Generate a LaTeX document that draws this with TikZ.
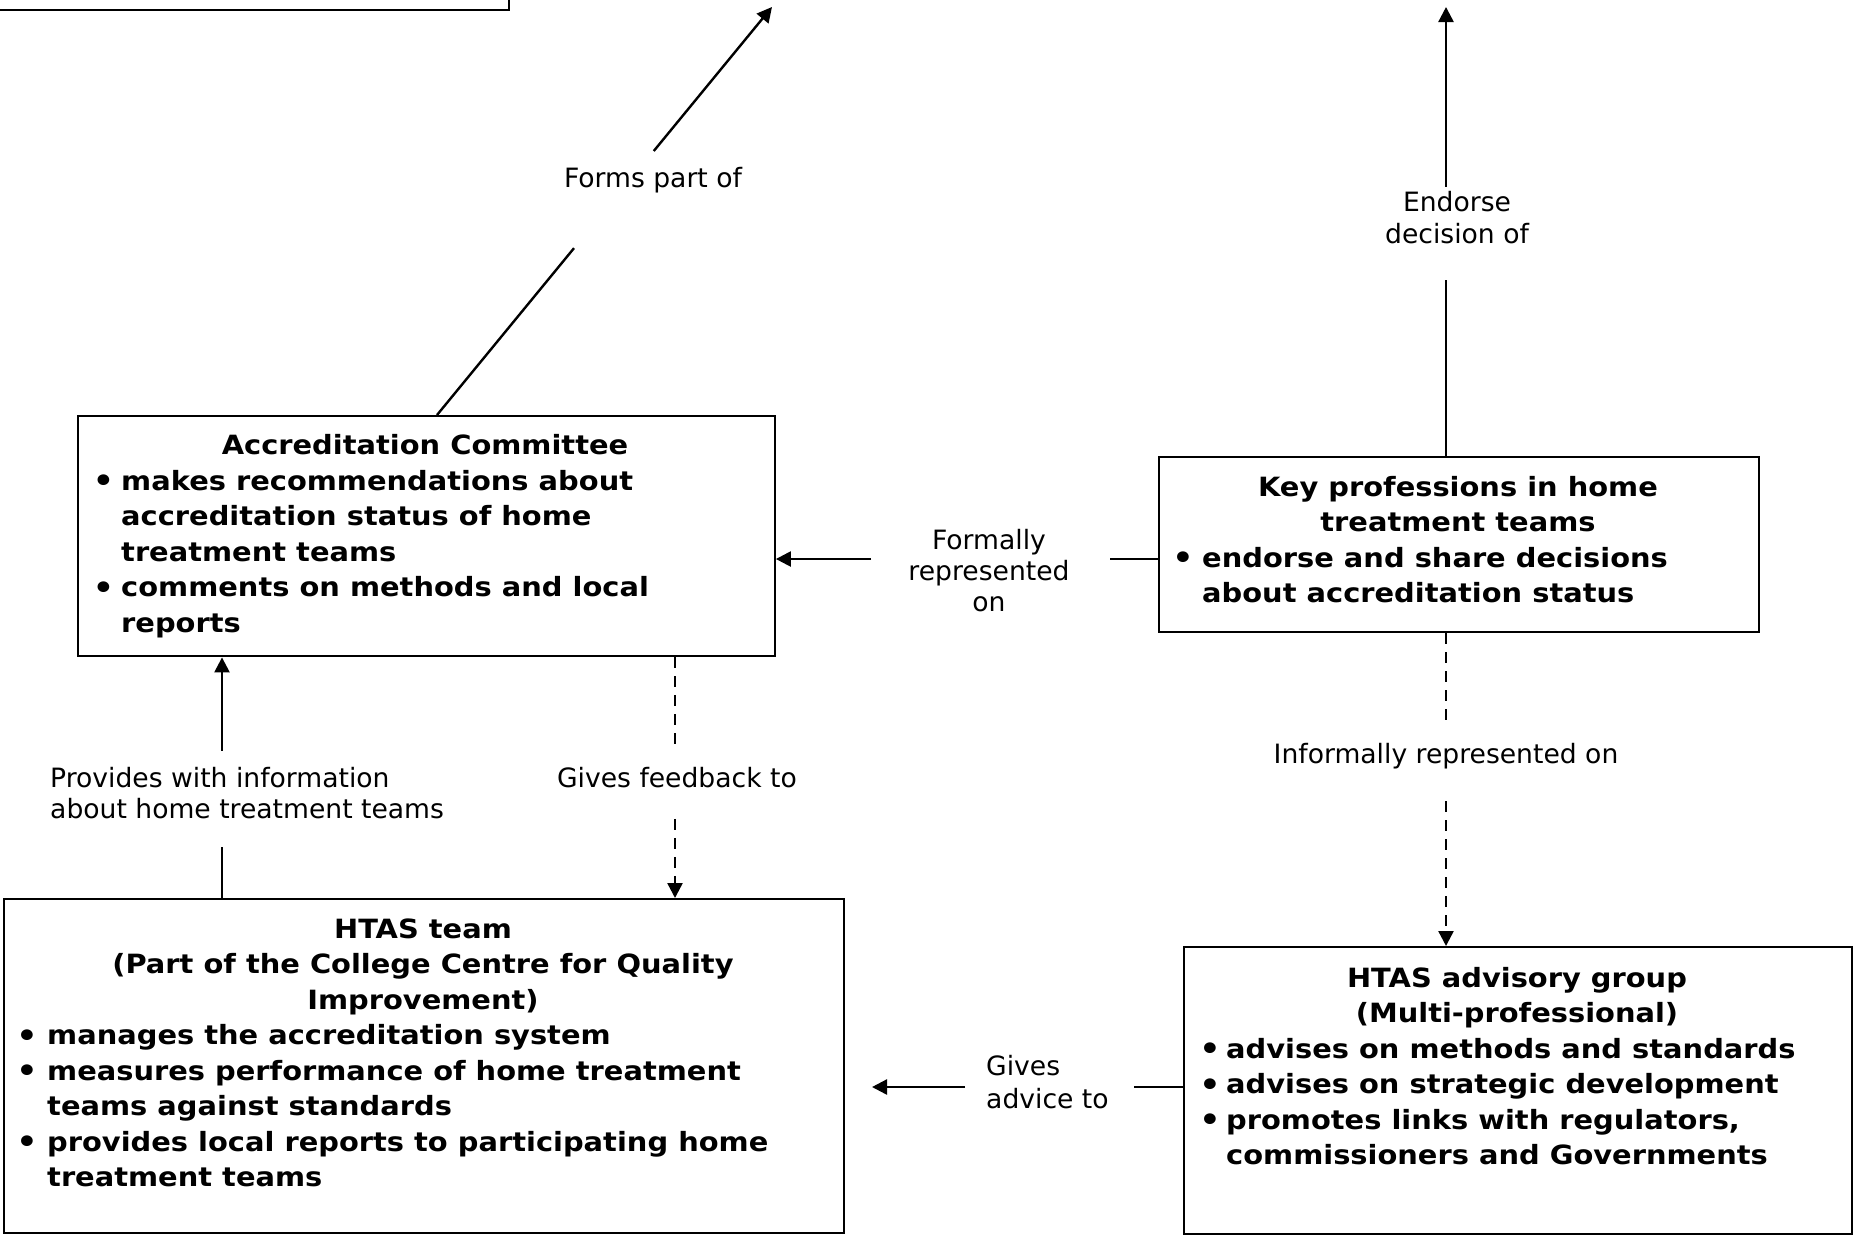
\documentclass[tikz,border=0pt]{standalone}
\usepackage{fontspec}
\setmainfont{DejaVu Sans}
\newfontfamily\boxfont{DejaVu Sans}[FakeStretch=1.09]
\usetikzlibrary{arrows.meta,calc}
\tikzset{
  box/.style={draw, line width=2.4pt, inner sep=0pt, anchor=north west},
  btxt/.style={font=\boxfont\bfseries\fontsize{26.5}{35.5}\selectfont, inner sep=0pt},
  ttl/.style={btxt, anchor=base},
  itm/.style={btxt, anchor=base west},
  bul/.style={btxt, anchor=base},
  lbl/.style={font=\fontsize{26.6}{31.5}\selectfont, inner sep=0pt, anchor=base},
  lbll/.style={lbl, anchor=base west},
  conn/.style={line width=2.4pt},
  arr/.style={conn, -{Triangle[length=15pt,width=15pt]}},
  dsh/.style={conn, dash pattern=on 11pt off 8pt},
}
\newcommand{\bulsym}{\raisebox{-1.5pt}{\scalebox{1.15}{\textbullet}}}
\begin{document}
\begin{tikzpicture}[x=1pt,y=-1pt]
\useasboundingbox (0,0) rectangle (1854,1235);

% boxes
\node[box, anchor=south east, minimum width=600pt, minimum height=100pt] (tl) at (510,11) {};
\node[box, minimum width=696.5pt, minimum height=240pt] (acc) at (77,415) {};
\node[box, minimum width=600pt, minimum height=175pt] (key) at (1158,456) {};
\node[box, minimum width=840pt, minimum height=334pt] (htas) at (3,898) {};
\node[box, minimum width=668.5pt, minimum height=287pt] (adv) at (1182.5,946) {};

% Accreditation Committee text
\node[ttl] (accT) at (425,454) {Accreditation Committee};
\node[bul] (accB1) at (103.5,490) {\bulsym};
\node[itm] (accL1) at (121,490) {makes recommendations about};
\node[itm] (accL2) at (121,525.5) {accreditation status of home};
\node[itm] (accL3) at (121,561) {treatment teams};
\node[bul] (accB2) at (103.5,596.5) {\bulsym};
\node[itm] (accL4) at (121,596.5) {comments on methods and local};
\node[itm] (accL5) at (121,632) {reports};

% Key professions text
\node[ttl] (keyT1) at (1458,496) {Key professions in home};
\node[ttl] (keyT2) at (1458,531.5) {treatment teams};
\node[bul] (keyB1) at (1183,567) {\bulsym};
\node[itm] (keyL1) at (1202,567) {endorse and share decisions};
\node[itm] (keyL2) at (1202,602.5) {about accreditation status};

% HTAS team text
\node[ttl] (htT1) at (423,938) {HTAS team};
\node[ttl] (htT2) at (423,973.5) {(Part of the College Centre for Quality};
\node[ttl] (htT3) at (423,1009) {Improvement)};
\node[bul] (htB1) at (27,1044.5) {\bulsym};
\node[itm] (htL1) at (47,1044.5) {manages the accreditation system};
\node[bul] (htB2) at (27,1080) {\bulsym};
\node[itm] (htL2) at (47,1080) {measures performance of home treatment};
\node[itm] (htL3) at (47,1115.5) {teams against standards};
\node[bul] (htB3) at (27,1151) {\bulsym};
\node[itm] (htL4) at (47,1151) {provides local reports to participating home};
\node[itm] (htL5) at (47,1186.5) {treatment teams};

% Advisory group text
\node[ttl] (adT1) at (1517,987) {HTAS advisory group};
\node[ttl] (adT2) at (1517,1022.5) {(Multi-professional)};
\node[bul] (adB1) at (1210,1058) {\bulsym};
\node[itm] (adL1) at (1226,1058) {advises on methods and standards};
\node[bul] (adB2) at (1210,1093.5) {\bulsym};
\node[itm] (adL2) at (1226,1093.5) {advises on strategic development};
\node[bul] (adB3) at (1210,1129) {\bulsym};
\node[itm] (adL3) at (1226,1129) {promotes links with regulators,};
\node[itm] (adL4) at (1226,1164.5) {commissioners and Governments};

% connector labels
\node[lbl] (lForms) at (653,187) {Forms part of};
\node[lbl] (lEnd1) at (1457,211) {Endorse};
\node[lbl] (lEnd2) at (1457,243) {decision of};
\node[lbl] (lFor1) at (989,549) {Formally};
\node[lbl] (lFor2) at (989,580) {represented};
\node[lbl] (lFor3) at (989,611) {on};
\node[lbl] (lInf) at (1446,763) {Informally represented on};
\node[lbll] (lPro1) at (50,787) {Provides with information};
\node[lbll] (lPro2) at (50,818) {about home treatment teams};
\node[lbl] (lFeed) at (677,787) {Gives feedback to};
\node[lbll] (lAdv1) at (986,1075) {Gives};
\node[lbll] (lAdv2) at (986,1108) {advice to};

% connector end points
\coordinate (fpS) at ($(acc.north west)+(360,0)$);
\coordinate (fpTip) at (772,7);
\coordinate (enS) at ($(key.north west)+(288,0)$);
\coordinate (enTip) at (1446,7);
\coordinate (foS) at ($(key.north west)+(0,103)$);
\coordinate (foE) at ($(acc.north east)+(0,144)$);
\coordinate (prS) at ($(htas.north west)+(219,0)$);
\coordinate (prE) at ($(acc.south west)+(145,0)$);
\coordinate (gfS) at ($(acc.south west)+(598,0)$);
\coordinate (gfE) at ($(htas.north west)+(672,0)$);
\coordinate (inS) at ($(key.south west)+(288,0)$);
\coordinate (inE) at ($(adv.north west)+(263.5,0)$);
\coordinate (gaS) at ($(adv.north west)+(0,141)$);
\coordinate (gaTip) at (872,1087);

% Forms part of
\draw[conn] (fpS) -- ($(fpS)!0.409!(fpTip)$);
\draw[arr] ($(fpS)!0.647!(fpTip)$) -- (fpTip);
% Endorse decision of
\draw[conn] (enS) -- ($(enS)!0.391!(enTip)$);
\draw[arr] ($(enS)!0.6!(enTip)$) -- (enTip);
% Formally represented on
\draw[conn] (foS) -- ($(foS)!0.125!(foE)$);
\draw[arr] ($(foS)!0.751!(foE)$) -- (foE);
% Provides with information
\draw[conn] (prS) -- ($(prS)!0.21!(prE)$);
\draw[arr] ($(prS)!0.613!(prE)$) -- (prE);
% Gives feedback to
\draw[dsh] (gfS) -- ($(gfS)!0.391!(gfE)$);
\draw[dsh,-{Triangle[length=15pt,width=15pt]}] ($(gfS)!0.671!(gfE)$) -- (gfE);
% Informally represented on
\draw[dsh] (inS) -- ($(inS)!0.298!(inE)$);
\draw[dsh,-{Triangle[length=15pt,width=15pt]}] ($(inS)!0.537!(inE)$) -- (inE);
% Gives advice to
\draw[conn] (gaS) -- ($(gaS)!0.156!(gaTip)$);
\draw[arr] ($(gaS)!0.700!(gaTip)$) -- (gaTip);
\end{tikzpicture}
\end{document}
